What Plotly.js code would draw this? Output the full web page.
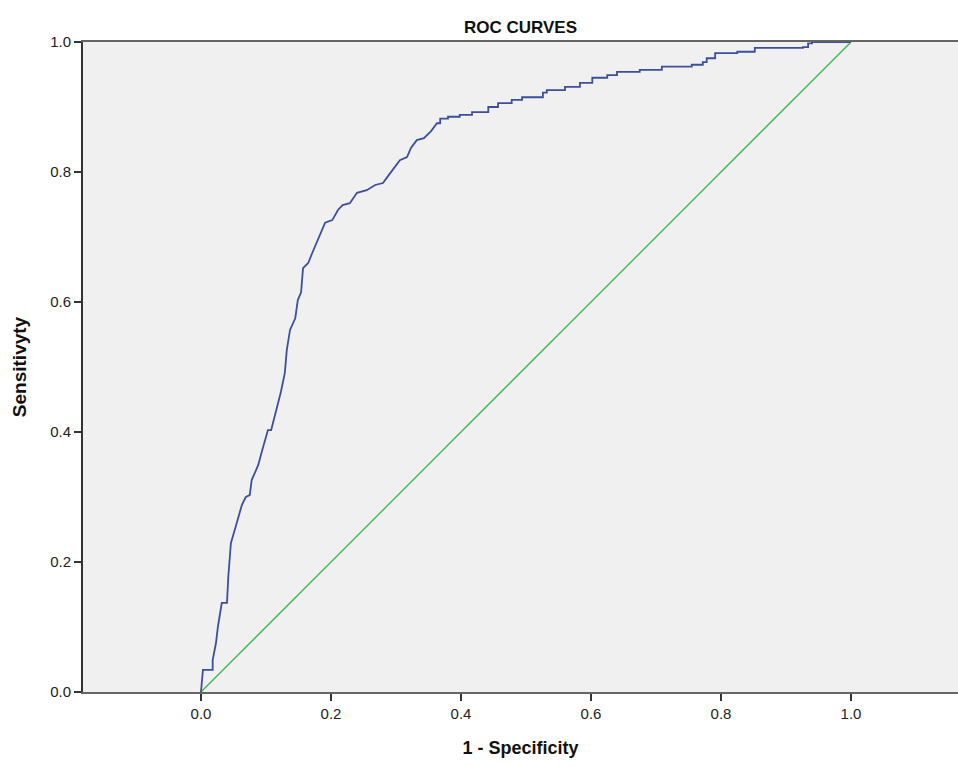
<!DOCTYPE html>
<html>
<head>
<meta charset="utf-8">
<script src="https://cdn.plot.ly/plotly-3.0.1.min.js"></script>
<style>html,body{margin:0;padding:0;background:#fff;}#chart{width:958px;height:766px;}</style>
</head>
<body>
<div id="chart"></div>
<script>
// ROC curve (1 - Specificity, Sensitivity), including step corners
var rocFpr = [0, 0.003, 0.018, 0.018, 0.023, 0.026, 0.032, 0.040, 0.042, 0.046, 0.055, 0.063, 0.069, 0.075, 0.078, 0.088, 0.094, 0.103, 0.108, 0.117, 0.123, 0.129, 0.132, 0.137, 0.145, 0.149, 0.154, 0.157, 0.165, 0.171, 0.180, 0.191, 0.202, 0.211, 0.218, 0.229, 0.240, 0.255, 0.268, 0.280, 0.288, 0.298, 0.306, 0.317, 0.323, 0.332, 0.343, 0.354, 0.363,
  0.368, 0.368, 0.380, 0.380, 0.398, 0.398, 0.417, 0.417, 0.442, 0.442, 0.457, 0.457, 0.478, 0.478, 0.494, 0.494, 0.526, 0.526, 0.532, 0.532, 0.560, 0.560, 0.583, 0.583, 0.602, 0.602, 0.625, 0.625, 0.640, 0.640, 0.675, 0.675, 0.709, 0.709, 0.755, 0.755, 0.772, 0.772, 0.778, 0.778, 0.791, 0.791, 0.825, 0.825, 0.852, 0.852, 0.926, 0.926, 0.934, 0.934, 0.940, 0.940, 1.0];
var rocTpr = [0, 0.034, 0.034, 0.049, 0.075, 0.100, 0.137, 0.137, 0.177, 0.229, 0.260, 0.288, 0.300, 0.303, 0.326, 0.349, 0.371, 0.403, 0.403, 0.438, 0.462, 0.491, 0.526, 0.557, 0.575, 0.603, 0.615, 0.652, 0.660, 0.675, 0.695, 0.722, 0.726, 0.742, 0.749, 0.752, 0.768, 0.772, 0.780, 0.783, 0.794, 0.808, 0.818, 0.823, 0.837, 0.849, 0.852, 0.863, 0.875,
  0.875, 0.882, 0.882, 0.885, 0.885, 0.888, 0.888, 0.892, 0.892, 0.900, 0.900, 0.906, 0.906, 0.911, 0.911, 0.915, 0.915, 0.922, 0.922, 0.926, 0.926, 0.931, 0.931, 0.937, 0.937, 0.945, 0.945, 0.949, 0.949, 0.954, 0.954, 0.957, 0.957, 0.962, 0.962, 0.965, 0.965, 0.969, 0.969, 0.975, 0.975, 0.983, 0.983, 0.985, 0.985, 0.991, 0.991, 0.992, 0.992, 0.998, 0.998, 1.0, 1.0];
// Reference diagonal
var refX = [0, 1];
var refY = [0, 1];
// Tick labels
var tickValues = [0, 0.2, 0.4, 0.6, 0.8, 1.0];
var tickLabels = ["0.0", "0.2", "0.4", "0.6", "0.8", "1.0"];

var traces = [
  {x: refX, y: refY, type: 'scatter', mode: 'lines', line: {color: '#3db34a', width: 1.3}, hoverinfo: 'skip', showlegend: false},
  {x: rocFpr, y: rocTpr, type: 'scatter', mode: 'lines', line: {color: '#3c4f9c', width: 1.8}, showlegend: false}
];

var fontFam = 'Liberation Sans, Arial, sans-serif';
var layout = {
  width: 958, height: 766,
  margin: {l: 83, r: 0, t: 42, b: 74},
  paper_bgcolor: '#ffffff',
  plot_bgcolor: '#f0f0f0',
  font: {family: fontFam, color: '#222', size: 15},
  title: {text: '<b>ROC CURVES</b>', font: {family: fontFam, size: 17, color: '#111'}, xref: 'paper', x: 0.5, xanchor: 'center', yref: 'container', y: 0.965, yanchor: 'middle'},
  xaxis: {
    range: [-0.1815, 1.1646], tickvals: tickValues, ticktext: tickLabels,
    showgrid: false, zeroline: false, showline: true, linecolor: '#666', linewidth: 2, mirror: true,
    ticks: 'outside', ticklen: 7, tickwidth: 2, tickcolor: '#333',
    tickfont: {family: fontFam, size: 15, color: '#222'},
    title: {text: '<b>1 - Specificity</b>', font: {family: fontFam, size: 18, color: '#111'}, standoff: 20}
  },
  yaxis: {
    range: [0, 1], tickvals: tickValues, ticktext: tickLabels,
    showgrid: false, zeroline: false, showline: true, linecolor: '#333', linewidth: 2,
    ticks: 'outside', ticklen: 7, tickwidth: 2, tickcolor: '#333',
    tickfont: {family: fontFam, size: 15, color: '#222'},
    title: {text: '<b>Sensitivyty</b>', font: {family: fontFam, size: 19, color: '#111'}, standoff: 18}
  }
};

Plotly.newPlot('chart', traces, layout, {displayModeBar: false, staticPlot: true});
</script>
</body>
</html>
